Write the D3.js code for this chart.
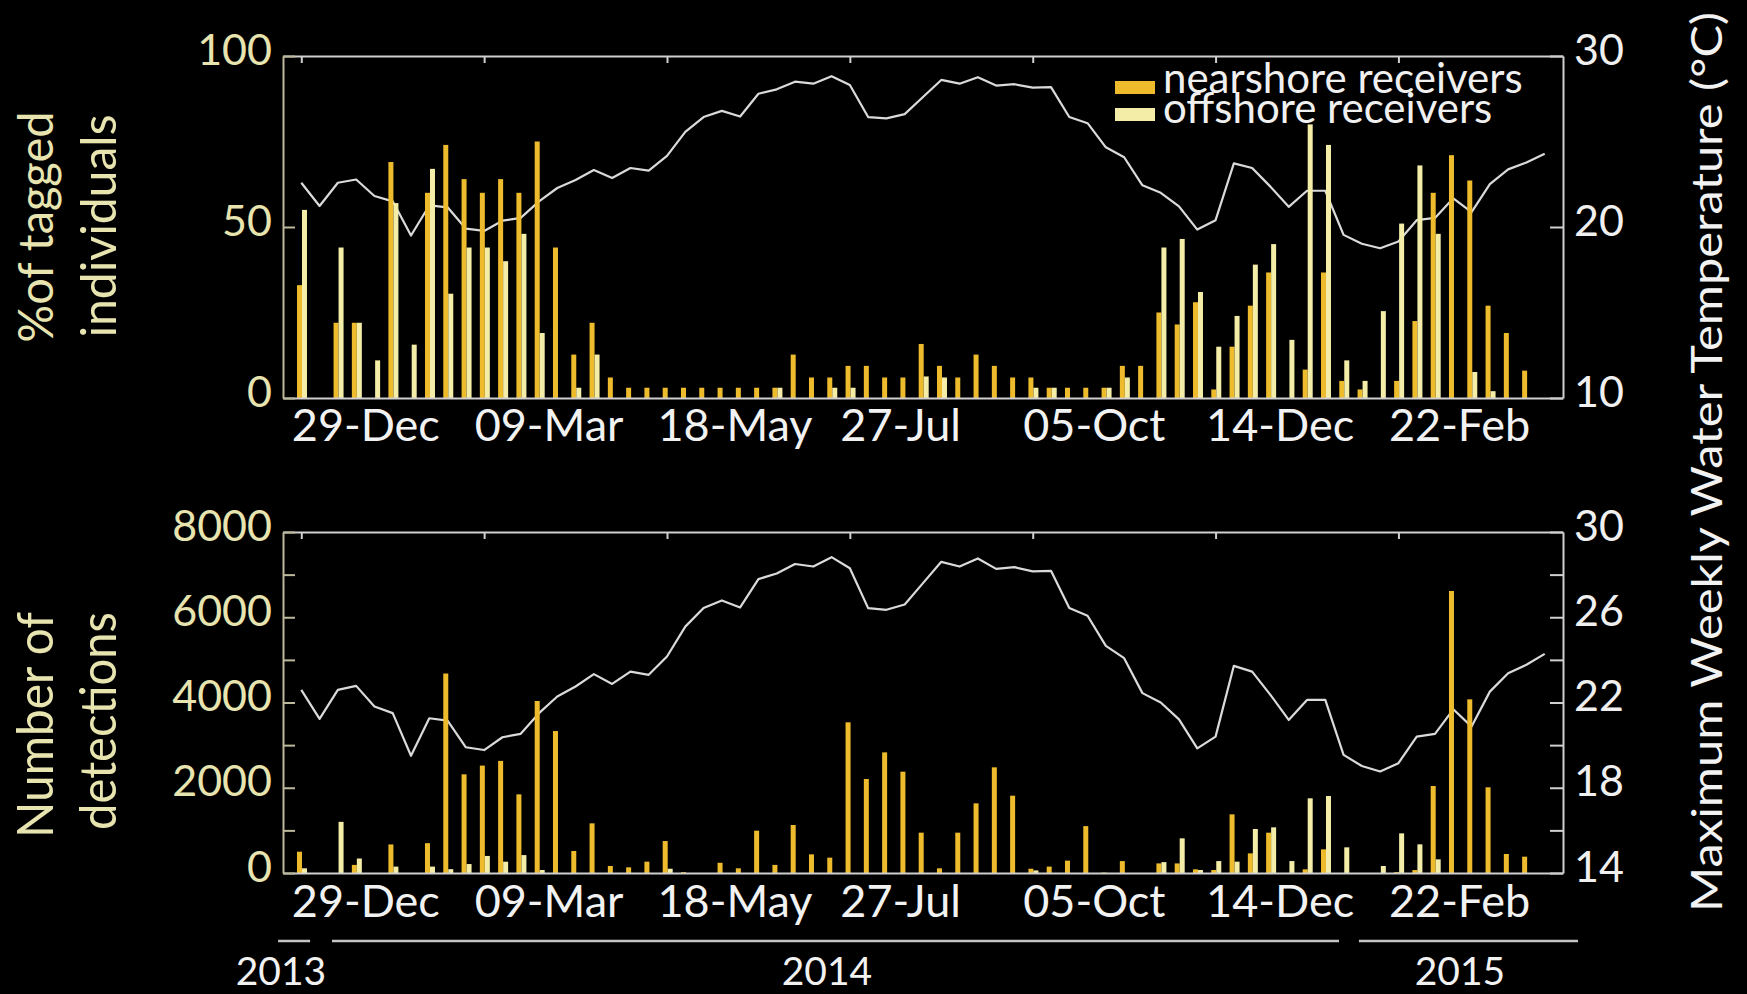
<!DOCTYPE html>
<html><head><meta charset="utf-8">
<script src="https://cdn.jsdelivr.net/npm/d3@7"></script>
<style>
html,body{margin:0;padding:0;background:#000;}
svg{display:block;}
text{font-family:Lato,"Open Sans",sans-serif;}
</style></head><body>
<svg id="chart" width="1747" height="994"></svg>
<script>
// ---------- DATA ----------
// weekly categories: first week 29-Dec-2013, 69 weeks
const firstWeek = new Date(Date.UTC(2013, 11, 29));
const nWeeks = 69;
const weeks = d3.range(nWeeks).map(i => d3.utcDay.offset(firstWeek, 7 * i));
const tickLabels = ["29-Dec", "09-Mar", "18-May", "27-Jul", "05-Oct", "14-Dec", "22-Feb"];
const tickWeekIndex = [0, 10, 20, 30, 40, 50, 60];
const seriesNames = ["nearshore receivers", "offshore receivers"];

// % of tagged individuals
const nearPct = [33,0,22,22,0,69,0,60,74,64, 60,64,60,75,44,12.7,22,6,3,3, 3,3,3,3,3,3,3,12.7,6,6,
  9.4,9.4,6,6,15.8,9.4,6,12.7,9.4,6, 6,3,3,3,3,9.4,9.4,25,21.5,28, 2.5,15,27,36.7,0,8.3,36.7,5,2.5,0,
  5,22.5,60,71,63.6,27,19,8,0];
const offPct = [55,0,44,22,11,57,15.6,67,30.5,44, 44,40,48,19,0,3,12.7,0,0,0, 0,0,0,0,0,0,3,0,0,3,
  3,0,0,0,6.3,6,0,0,0,0, 3,3,0,0,3,6,0,44,46.5,31, 15,24,39,45,17,80,74,11,5,25.4,
  51,68,48,0,7.6,2,0,0,0];

// number of detections
const nearDet = [500,0,0,190,0,670,0,700,4680,2315, 2520,2630,1845,4035,3330,516,1165,164,133,266,
  750,20,0,240,110,993,190,1126,438,360, 3535,2205,2830,2377,946,110,946,1634,2479,1814,
  100,150,290,1100,10,280,0,225,225,86, 70,1376,461,946,0,86,555,0,0,0,
  20,70,2041,6616,4074,2010,446,383,0];
const offDet = [110,0,1200,340,0,150,0,150,90,210, 400,265,420,70,0,0,0,0,0,0,
  100,0,0,0,0,0,0,0,0,0, 0,0,0,0,0,0,0,0,0,0,
  60,0,0,0,0,0,0,255,813,70, 280,266,1032,1071,280,1752,1806,602,0,164,
  930,672,320,0,0,0,0,0,0];

// maximum weekly water temperature (°C)
const maxTemp = [22.59,21.23,22.59,22.78,21.81,21.5,19.5,21.26,21.15,19.9,
  19.77,20.37,20.53,21.5,22.28,22.75,23.33,22.87,23.45,23.3,
  24.16,25.56,26.43,26.79,26.46,27.79,28.05,28.5,28.38,28.82,
  28.3,26.43,26.35,26.6,27.6,28.6,28.38,28.76,28.27,28.35,
  28.15,28.18,26.43,26.07,24.66,24.08,22.44,22.0,21.21,19.85,
  20.4,23.72,23.45,22.36,21.18,22.12,22.12,19.54,19.02,18.76,
  19.15,20.4,20.53,21.68,20.87,22.51,23.37,23.77,24.28];

// year brackets, extent in weeks from the first week
const yearLabels = ["2013", "2014", "2015"];
const yearFrom = [-1.27, 1.68, 57.84];
const yearTo = [0.48, 56.75, 69.82];

// ---------- LAYOUT ----------
const svg = d3.select("#chart");
const W = 1747, H = 994;
svg.append("rect").attr("width", W).attr("height", H).attr("fill", "#000");

const left = 283, right = 1563;
const x = d3.scaleUtc()
  .domain([d3.utcDay.offset(firstWeek, -7), d3.utcDay.offset(firstWeek, 7 * nWeeks)])
  .range([left, right]);
const xw = w => x(d3.utcHour.offset(firstWeek, Math.round(w * 168)));
const xb = d3.scaleBand().domain(["near", "off"]).range([-4.3, 5.7]);
const color = {near: "#edbb2c", off: "#f4eda8"};

const FONT = "Lato, 'Open Sans', sans-serif";
const leftText = "#e7e4b0", leftLine = "#bcb89c", rightText = "#f0f0f0", frameLine = "#cfcfcf";
const tickDates = tickWeekIndex.map(i => weeks[i]);

const panels = [
  {top: 56, bot: 398, yDom: [0, 100], yTicks: [0, 50, 100], tDom: [10, 30], tTicks: [10, 20, 30], tLabel: d => d,
   near: nearPct, off: offPct, labelY: 43},
  {top: 532, bot: 873, yDom: [0, 8000], yTicks: d3.range(0, 8001, 1000), tDom: [14, 30], tTicks: d3.range(14, 31, 2),
   tLabel: d => ((d - 14) % 4 === 0 ? d : ""), yLabel: d => (d % 2000 === 0 ? d : ""),
   near: nearDet, off: offDet, labelY: 44}
];

panels.forEach(p => {
  const y = d3.scaleLinear().domain(p.yDom).range([p.bot, p.top]);
  const yt = d3.scaleLinear().domain(p.tDom).range([p.bot, p.top]);
  const g = svg.append("g");

  // temperature line
  const line = d3.line().x((d, i) => x(weeks[i])).y(d => yt(d));
  g.append("path").datum(maxTemp).attr("d", line)
    .attr("fill", "none").attr("stroke", "#dadada").attr("stroke-width", 2.2).attr("stroke-linejoin", "round");

  // bars
  const rows = [];
  weeks.forEach((w, i) => {
    if (p.near[i] > 0) rows.push({w, s: "near", v: p.near[i]});
    if (p.off[i] > 0) rows.push({w, s: "off", v: p.off[i]});
  });
  g.selectAll("rect.bar").data(rows).join("rect").attr("class", "bar")
    .attr("x", d => x(d.w) + xb(d.s)).attr("width", xb.bandwidth())
    .attr("y", d => y(d.v)).attr("height", d => y(0) - y(d.v))
    .attr("fill", d => color[d.s]);

  // top axis (ticks only)
  const ta = g.append("g").attr("transform", `translate(0,${p.top})`)
    .call(d3.axisTop(x).tickValues(tickDates).tickSize(-7).tickSizeOuter(0).tickFormat(""));
  ta.selectAll("path,line").attr("stroke", frameLine).attr("stroke-width", 2);

  // bottom axis with date labels
  const ba = g.append("g").attr("transform", `translate(0,${p.bot})`)
    .call(d3.axisBottom(x).tickValues(tickDates).tickSize(0).tickSizeOuter(0)
      .tickFormat((d, i) => tickLabels[i]));
  ba.selectAll("path").attr("stroke", frameLine).attr("stroke-width", 2);
  ba.selectAll("text").attr("y", p.labelY).attr("dy", 0).attr("dx", -10)
    .attr("text-anchor", "start").attr("fill", "#f2f2f2")
    .style("font-family", FONT).style("font-size", "45px");

  // left axis
  const la = g.append("g").attr("transform", `translate(${left},0)`)
    .call(d3.axisLeft(y).tickValues(p.yTicks).tickSize(-12).tickSizeOuter(0).tickPadding(11)
      .tickFormat(p.yLabel || (d => d)));
  la.selectAll("path,line").attr("stroke", leftLine).attr("stroke-width", 2);
  la.selectAll("text").attr("dy", 8).attr("fill", leftText)
    .style("font-family", FONT).style("font-size", "43px");

  // right axis (temperature)
  const ra = g.append("g").attr("transform", `translate(${right},0)`)
    .call(d3.axisRight(yt).tickValues(p.tTicks).tickSize(-13).tickSizeOuter(0).tickPadding(11)
      .tickFormat(p.tLabel));
  ra.selectAll("path,line").attr("stroke", frameLine).attr("stroke-width", 2);
  ra.selectAll("text").attr("dy", 8).attr("fill", rightText)
    .style("font-family", FONT).style("font-size", "43px");
});

// legend: swatches + one two-line text block
const legend = svg.append("g");
const legendRows = [{s: "near", y0: 81, base: 93}, {s: "off", y0: 108, base: 123}];
legendRows.forEach(d => {
  legend.append("rect").attr("x", 1115).attr("y", d.y0).attr("width", 40).attr("height", 13).attr("fill", color[d.s]);
});
const legText = legend.append("text").attr("fill", "#f0f0f0").style("font-size", "42px");
legendRows.forEach((d, i) => {
  legText.append("tspan").attr("x", 1163).attr("y", d.base).text(seriesNames[i]);
});

// axis titles
function vtext(xp, yc, len, size, fill, str) {
  svg.append("text").attr("transform", `translate(${xp},${yc}) rotate(-90)`)
    .attr("text-anchor", "middle").attr("fill", fill).style("font-size", size + "px")
    .attr("textLength", len).attr("lengthAdjust", "spacingAndGlyphs").text(str);
}
vtext(53, 227, 231, 49, leftText, "%of tagged");
vtext(116, 226, 223, 49, leftText, "individuals");
vtext(53, 725, 226, 51, leftText, "Number of");
vtext(116, 721, 218, 51, leftText, "detections");
vtext(1722, 462, 900, 42, "#f2f2f2", "Maximum Weekly Water Temperature (°C)");

// year brackets
const yg = svg.append("g");
yearLabels.forEach((lab, i) => {
  const x0 = xw(yearFrom[i]), x1 = xw(yearTo[i]);
  yg.append("line").attr("x1", x0).attr("x2", x1).attr("y1", 941).attr("y2", 941)
    .attr("stroke", "#c4c4c4").attr("stroke-width", 2.5);
});
const yearCenters = [281, 827, 1460];
yearLabels.forEach((lab, i) => {
  yg.append("text").attr("x", yearCenters[i]).attr("y", 985).attr("text-anchor", "middle")
    .attr("fill", "#f2f2f2").style("font-size", "39px").text(lab);
});
</script>
</body></html>
